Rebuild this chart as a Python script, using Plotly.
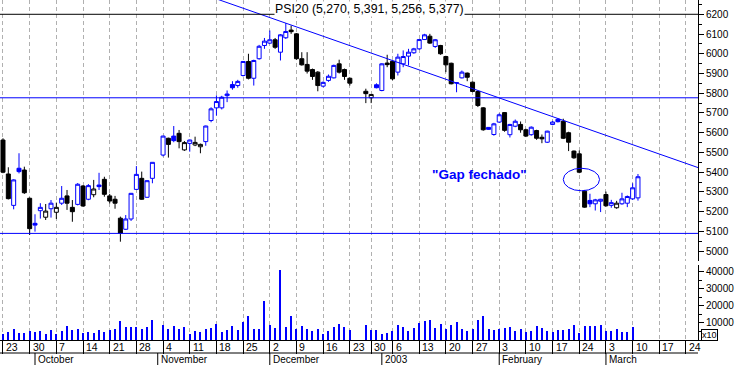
import datetime as dt
import plotly.graph_objects as go

# ---------------- data (PSI20 daily, from 2002-09-23; None = no session) ----------------
open_ = [5563, 5391, 5232, 5420, 5411, 5268, 5141, 5205, 5172, 5215,
         5197, 5243, 5280, 5222, 5237, 5330, 5263, 5286, 5335, 5364,
         5280, 5263, 5167, 5111, 5163, 5313, 5369, 5273, 5369, None,
         5487, 5572, 5583, 5597, 5513, 5546, 5538, 5529, 5555, 5662,
         5726, 5726, 5788, 5844, 5839, 5890, 5961, 5876, 5975, 6042,
         6054, 6071, 6008, 6081, 6120, 6101, 5975, 5946, 5920, 5907,
         5836, 5865, 5878, 5949, 5920, 5876, None, None, 5810, 5777,
         5843, 5814, 5953, 5962, 5907, 5949, 5988, 6005, 6025, 6072,
         6089, 6037, 6042, 5986, 5952, 5852, 5878, 5902, 5856, 5809,
         5726, 5627, 5591, 5654, 5702, 5590, 5633, 5642, 5615, 5590,
         5611, 5577, 5552, 5642, 5668, 5658, 5600, 5507, 5493, 5304,
         5257, 5240, 5253, 5287, 5232, 5220, 5240, 5243, 5265, 5270]
high = [5572, 5425, 5364, 5496, 5428, 5272, 5187, 5243, 5239, 5259,
        5246, 5330, 5310, 5259, 5345, 5335, 5340, 5361, 5397, 5377,
        5290, 5280, 5175, 5183, 5295, 5431, 5403, 5360, 5450, None,
        5585, 5575, 5634, 5614, 5558, 5565, 5580, 5545, 5636, 5729,
        5789, 5787, 5814, 5861, 5868, 5963, 6000, 5970, 6045, 6080,
        6118, 6080, 6100, 6155, 6143, 6105, 6008, 6008, 5925, 5912,
        5860, 5895, 5945, 5970, 5925, 5880, None, None, 5823, 5794,
        5850, 5952, 5995, 5965, 6000, 6017, 6025, 6030, 6075, 6101,
        6101, 6075, 6045, 5990, 5955, 5853, 5915, 5905, 5860, 5812,
        5730, 5628, 5650, 5698, 5705, 5645, 5667, 5657, 5620, 5632,
        5615, 5591, 5610, 5660, 5672, 5671, 5605, 5510, 5510, 5310,
        5291, 5265, 5265, 5302, 5260, 5255, 5296, 5282, 5344, 5391]
low = [5395, 5262, 5212, 5394, 5290, 5082, 5099, 5165, 5158, 5170,
       5163, 5234, 5209, 5149, 5232, 5225, 5258, 5273, 5310, 5276,
       5242, 5215, 5048, 5108, 5153, 5310, 5260, 5270, 5344, None,
       5480, 5474, 5552, 5521, 5508, 5504, 5532, 5496, 5534, 5653,
       5687, 5718, 5755, 5818, 5828, 5885, 5870, 5839, 5970, 6025,
       6050, 6025, 5966, 6075, 6101, 5970, 5940, 5900, 5868, 5810,
       5830, 5858, 5875, 5900, 5868, 5839, None, None, 5750, 5750,
       5825, 5810, 5932, 5866, 5890, 5932, 5941, 6000, 6020, 6070,
       6050, 6030, 5995, 5907, 5845, 5805, 5875, 5861, 5805, 5730,
       5610, 5615, 5585, 5650, 5605, 5576, 5628, 5600, 5578, 5585,
       5564, 5547, 5548, 5638, 5652, 5568, 5507, 5468, 5395, 5220,
       5223, 5206, 5198, 5225, 5220, 5215, 5235, 5223, 5260, 5256]
close = [5400, 5266, 5361, 5403, 5296, 5114, 5132, 5222, 5203, 5243,
         5222, 5268, 5243, 5200, 5339, 5229, 5332, 5315, 5327, 5288,
         5254, 5243, 5091, 5163, 5293, 5389, 5263, 5357, 5450, None,
         5583, 5541, 5560, 5555, 5550, 5563, 5551, 5541, 5634, 5721,
         5758, 5780, 5796, 5828, 5860, 5961, 5876, 5966, 6038, 6064,
         6071, 6033, 6096, 6113, 6112, 5975, 5944, 5912, 5885, 5839,
         5855, 5886, 5941, 5907, 5885, 5851, None, None, 5798, 5794,
         5828, 5949, 5945, 5873, 5983, 5986, 6008, 6025, 6072, 6096,
         6054, 6071, 6000, 5944, 5848, 5853, 5907, 5881, 5809, 5738,
         5615, 5617, 5645, 5691, 5612, 5642, 5658, 5615, 5583, 5628,
         5572, 5569, 5608, 5654, 5656, 5572, 5552, 5473, 5400, 5223,
         5240, 5260, 5263, 5230, 5246, 5243, 5265, 5277, 5321, 5377]
volume = [3570, 4960, 6550, 4170, 4370, 5360, 4960, 5360, 3570, 5950,
          3570, 5360, 8330, 5950, 6550, 4370, 4960, 4170, 5950, 4960,
          5950, 6550, 11310, 7740, 7740, 7740, 6550, 7740, 11900, None,
          8530, 6550, 8330, 6550, 7740, 3570, 5360, 4760, 6550, 7140,
          9520, 4760, 5950, 8330, 5950, 10710, 14290, 6550, 6550, 22620,
          8530, 7140, 41070, 7740, 14290, 6550, 8330, 6550, 5360, 6550,
          3570, 5360, 7740, 9520, 7740, 5950, None, None, 8930, 5950,
          5950, 3570, 4370, 5360, 8930, 7740, 5360, 7140, 10120, 11310,
          11900, 7140, 9520, 6550, 8930, 10710, 6550, 5360, 6550, 11900,
          14290, 6550, 5950, 6550, 7140, 7740, 5360, 6550, 4760, 5360,
          8330, 7140, 5360, 4760, 5950, 5950, 6550, 8530, 3970, 7940,
          7940, 7940, 8930, 5360, 5360, 6350, 4960, 4560, 7340, None]

week_dates = ["2002-09-23", "2002-09-30", "2002-10-07", "2002-10-14", "2002-10-21",
              "2002-10-28", "2002-11-04", "2002-11-11", "2002-11-18", "2002-11-25",
              "2002-12-02", "2002-12-09", "2002-12-16", "2002-12-23", "2002-12-30",
              "2003-01-06", "2003-01-13", "2003-01-20", "2003-01-27", "2003-02-03",
              "2003-02-10", "2003-02-17", "2003-02-24", "2003-03-03", "2003-03-10",
              "2003-03-17", "2003-03-24"]
week_labels = ["23", "30", "7", "14", "21", "28", "4", "11", "18", "25", "2", "9", "16",
               "23", "30", "6", "13", "20", "27", "3", "10", "17", "24", "3", "10", "17", "24"]
month_dates = ["2002-10-01", "2002-11-01", "2002-12-02", "2003-01-02", "2003-02-03", "2003-03-03"]
month_labels = ["October", "November", "December", "2003", "February", "March"]

price_ticks = [5000, 5100, 5200, 5300, 5400, 5500, 5600, 5700, 5800, 5900, 6000, 6100, 6200]
volume_ticks = [10000, 20000, 30000, 40000]

level_lines = [6200, 5777, 5090]          # horizontal study lines
level_colors = ["#000000", "#0000ff", "#0000ff"]
trend_dates = ["2002-12-05", "2003-02-18"]  # highs touched by the down trendline
gap_box = dict(d0=105.0, d1=111.8, p0=5306, p1=5420)  # ellipse around the closed gap
gap_text = '"Gap fechado"'

# ---------------- calendar (chart skips Dec 25 and Jan 1) ----------------
closed_days = {dt.date(2002, 12, 25), dt.date(2003, 1, 1)}
cal = []
d = dt.date(2002, 9, 23)
while d <= dt.date(2003, 3, 28):
    if d.weekday() < 5 and d not in closed_days:
        cal.append(d)
    d += dt.timedelta(days=1)
slot = {c.isoformat(): i for i, c in enumerate(cal)}
n = len(close)
X_RANGE = [-0.56, slot["2003-03-26"] + 0.25]

BLUE = "#0000ff"
BLACK = "#000000"
FONT = "Liberation Sans, Arial, sans-serif"

# colour by close vs previous close, fill by close vs open
blue_idx, black_idx = [], []
prev = None
for i in range(n):
    if close[i] is None:
        continue
    if prev is not None and close[i] >= prev:
        blue_idx.append(i)
    else:
        black_idx.append(i)
    prev = close[i]


def candles(idx, col):
    return go.Candlestick(
        x=idx,
        open=[open_[i] for i in idx], high=[high[i] for i in idx],
        low=[low[i] for i in idx], close=[close[i] for i in idx],
        increasing=dict(line=dict(color=col, width=1), fillcolor="white"),
        decreasing=dict(line=dict(color=col, width=1), fillcolor=col),
        whiskerwidth=0, xaxis="x", yaxis="y", hoverinfo="skip", showlegend=False)


fig = go.Figure()
fig.add_trace(candles(black_idx, BLACK))
fig.add_trace(candles(blue_idx, BLUE))

vx = [i for i in range(n) if volume[i] is not None]
fig.add_trace(go.Bar(x=vx, y=[volume[i] for i in vx], width=0.2,
                     marker=dict(color=BLUE, line=dict(width=0)),
                     xaxis="x", yaxis="y2", hoverinfo="skip", showlegend=False))

# trendline through the two highs, extended over the whole axis
t0, t1 = slot[trend_dates[0]], slot[trend_dates[1]]
h0, h1 = high[t0], high[t1]
slope = (h1 - h0) / (t1 - t0)
tx = [X_RANGE[0], X_RANGE[1]]
ty = [h0 + slope * (v - t0) for v in tx]
fig.add_trace(go.Scatter(x=tx, y=ty, mode="lines", line=dict(color=BLUE, width=1),
                         xaxis="x", yaxis="y", hoverinfo="skip", showlegend=False))

shapes = []
for lv, lc in zip(level_lines, level_colors):
    shapes.append(dict(type="line", xref="paper", x0=0, x1=1, yref="y", y0=lv, y1=lv,
                       line=dict(color=lc, width=1)))
shapes.append(dict(type="circle", xref="x", yref="y",
                   x0=gap_box["d0"], x1=gap_box["d1"], y0=gap_box["p0"], y1=gap_box["p1"],
                   line=dict(color=BLUE, width=1)))
PLOT_H = 340.0
row1 = -13 / PLOT_H
row2 = -25 / PLOT_H
shapes.append(dict(type="line", xref="paper", x0=0, x1=1, yref="paper", y0=row1, y1=row1,
                   line=dict(color=BLACK, width=1)))
for md in month_dates:
    s = slot[md]
    shapes.append(dict(type="line", xref="x", x0=s, x1=s, yref="paper", y0=row1, y1=row2,
                       line=dict(color=BLACK, width=1)))

annotations = []
for wd, wl in zip(week_dates, week_labels):
    annotations.append(dict(x=slot[wd], xref="x", y=-6.8 / PLOT_H, yref="paper",
                            text=wl, showarrow=False, xanchor="left", yanchor="middle",
                            xshift=1, font=dict(family=FONT, size=10.5, color=BLACK)))
for md, ml in zip(month_dates, month_labels):
    annotations.append(dict(x=slot[md], xref="x", y=-19.5 / PLOT_H, yref="paper",
                            text=ml, showarrow=False, xanchor="left", yanchor="middle",
                            xshift=1, font=dict(family=FONT, size=10, color=BLACK)))
last = n - 1
title = "PSI20 ({:,}, {:,}, {:,}, {:,})".format(open_[last], high[last], low[last], close[last])
annotations.append(dict(x=274 / 698, xref="paper", y=1 - 8.5 / PLOT_H, yref="paper",
                        text=title, showarrow=False, xanchor="left", yanchor="middle",
                        bgcolor="white", borderpad=0,
                        font=dict(family=FONT, size=12.3, color=BLACK)))
annotations.append(dict(x=89.3, xref="x", y=5386, yref="y", text="<b>" + gap_text + "</b>",
                        showarrow=False, xanchor="center", yanchor="middle",
                        font=dict(family=FONT, size=13.5, color=BLUE)))
annotations.append(dict(x=1, xref="paper", xshift=3, y=5 / PLOT_H, yref="paper",
                        text="x10", showarrow=False, xanchor="left", yanchor="middle",
                        bordercolor=BLACK, borderwidth=1, borderpad=0,
                        font=dict(family=FONT, size=9, color=BLACK)))

axis_font = dict(family=FONT, size=10, color=BLACK)
fig.update_layout(
    width=738, height=365,
    margin=dict(l=0, r=40, t=0, b=25, pad=0),
    paper_bgcolor="white", plot_bgcolor="white",
    showlegend=False, boxgap=0.25, boxgroupgap=0, bargap=0,
    shapes=shapes, annotations=annotations,
    xaxis=dict(range=X_RANGE, anchor="y2", tickmode="array",
               tickvals=[slot[w] for w in week_dates], showticklabels=False,
               ticks="outside", ticklen=13, tickwidth=1, tickcolor=BLACK,
               showgrid=True, gridcolor="#b0b0b0", griddash="4px,3px", gridwidth=1,
               showline=True, linecolor=BLACK, linewidth=1, zeroline=False,
               rangeslider=dict(visible=False), fixedrange=True),
    yaxis=dict(domain=[1 - 261 / PLOT_H, 1], range=[4950.2, 6272.4], anchor="x",
               side="right", tickmode="array", tickvals=price_ticks, tickformat="d",
               ticks="outside", ticklen=5, tickcolor=BLACK, tickfont=axis_font,
               minor=dict(dtick=50, tick0=0, ticks="outside", ticklen=3, tickcolor=BLACK),
               showline=True, linecolor=BLACK, linewidth=1, showgrid=False,
               zeroline=False, fixedrange=True),
    yaxis2=dict(domain=[0, 75 / PLOT_H], range=[0, 43900], anchor="x",
                side="right", tickmode="array", tickvals=volume_ticks, tickformat="d",
                ticks="outside", ticklen=5, tickcolor=BLACK, tickfont=axis_font,
                minor=dict(dtick=5000, tick0=0, ticks="outside", ticklen=3, tickcolor=BLACK),
                showline=True, linecolor=BLACK, linewidth=1, showgrid=False,
                zeroline=False, fixedrange=True),
)

fig.write_html("out.html", config={"displayModeBar": False},
               post_script="document.body.style.margin='0';")
